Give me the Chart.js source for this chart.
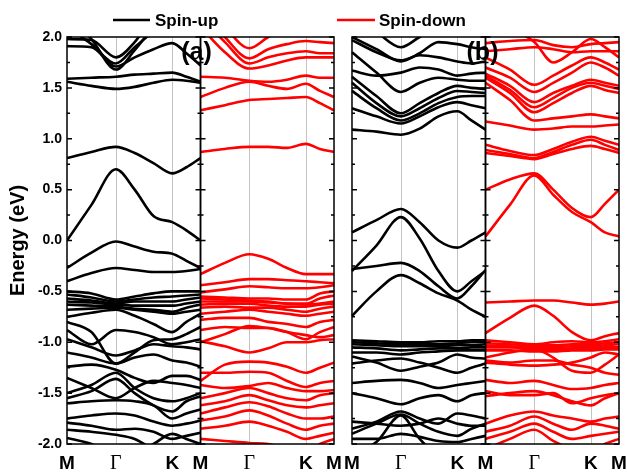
<!DOCTYPE html>
<html>
<head>
<meta charset="utf-8">
<script src="https://cdn.jsdelivr.net/npm/chart.js@4/dist/chart.umd.min.js"></script>
<style>
  html, body { margin: 0; padding: 0; background: #fff; }
</style>
</head>
<body>
<canvas id="bands" width="627" height="472"></canvas>
<script>
// path M-Γ-K-M through the hexagonal zone, |MΓ| = 1
const kNodes = [0, 1, 2.1547, 2.7321];
// energies are sampled at these k positions: M, ½MΓ, Γ, ⅓ΓK, ⅔ΓK, K, ½KM, M
const kSample = [0, 0.5, 1, 1.3849, 1.7698, 2.1547, 2.4434, 2.7321];
const xTickLabels = ['M', 'Γ', 'K', 'M', 'Γ', 'K', 'M', 'M', 'Γ', 'K', 'M', 'Γ', 'K', 'M'];
const panelTags = ['(a)', '(b)'];
const seriesNames = ['Spin-up', 'Spin-down'];

// (a) spin-up, eV
const upA = [
  [2.20, 1.98, 1.68, 1.87, 2.10, 2.30, 2.30, 2.30],
  [1.91, 1.90, 1.71, 1.80, 1.88, 1.94, 1.84, 1.72],
  [2.10, 1.93, 1.74, 1.90, 2.05, 2.15, 2.10, 2.05],
  [1.98, 1.97, 1.80, 1.95, 2.20, 2.30, 2.20, 2.10],
  [1.59, 1.60, 1.61, 1.63, 1.64, 1.65, 1.61, 1.56],
  [1.56, 1.52, 1.49, 1.51, 1.55, 1.58, 1.57, 1.55],
  [0.81, 0.87, 0.92, 0.86, 0.76, 0.66, 0.72, 0.81],
  [0.00, 0.35, 0.70, 0.50, 0.24, 0.18, 0.10, 0.00],
  [-0.27, -0.12, -0.01, -0.06, -0.11, -0.13, -0.20, -0.27],
  [-0.40, -0.32, -0.27, -0.29, -0.31, -0.31, -0.30, -0.28],
  [-0.50, -0.52, -0.58, -0.55, -0.52, -0.50, -0.50, -0.50],
  [-0.53, -0.56, -0.60, -0.58, -0.56, -0.55, -0.54, -0.53],
  [-0.57, -0.59, -0.62, -0.60, -0.60, -0.60, -0.58, -0.56],
  [-0.60, -0.61, -0.63, -0.64, -0.64, -0.64, -0.62, -0.60],
  [-0.63, -0.64, -0.65, -0.67, -0.68, -0.70, -0.66, -0.63],
  [-0.68, -0.67, -0.66, -0.68, -0.70, -0.72, -0.70, -0.68],
  [-0.75, -0.71, -0.68, -0.74, -0.82, -0.90, -0.80, -0.72],
  [-0.80, -0.90, -1.21, -1.10, -0.98, -0.97, -0.92, -0.85],
  [-0.88, -1.02, -0.88, -0.90, -0.95, -1.02, -1.00, -0.97],
  [-0.97, -1.05, -1.13, -1.08, -1.02, -1.04, -1.05, -1.07],
  [-1.10, -1.15, -1.21, -1.15, -1.12, -1.18, -1.20, -1.24],
  [-1.24, -1.22, -1.27, -1.35, -1.40, -1.33, -1.33, -1.37],
  [-1.35, -1.45, -1.55, -1.45, -1.38, -1.40, -1.42, -1.45],
  [-1.50, -1.42, -1.30, -1.45, -1.55, -1.58, -1.55, -1.50],
  [-1.55, -1.48, -1.36, -1.50, -1.62, -1.68, -1.58, -1.53],
  [-1.60, -1.58, -1.57, -1.58, -1.62, -1.75, -1.70, -1.66],
  [-1.75, -1.72, -1.70, -1.72, -1.78, -1.82, -1.80, -1.77],
  [-1.79, -1.82, -1.86, -1.85, -1.88, -1.95, -1.92, -1.89],
  [-1.86, -1.88, -1.91, -1.95, -2.05, -2.10, -2.05, -2.00],
  [-1.94, -2.00, -2.10, -2.10, -2.00, -1.90, -1.95, -2.00]
];

// (a) spin-down
const downA = [
  [2.40, 2.10, 1.89, 2.00, 2.10, 2.20, 2.20, 2.20],
  [2.30, 2.00, 1.79, 1.88, 1.93, 1.96, 1.95, 1.94],
  [2.20, 1.95, 1.74, 1.80, 1.84, 1.86, 1.84, 1.84],
  [2.10, 1.85, 1.69, 1.72, 1.77, 1.80, 1.80, 1.80],
  [1.61, 1.60, 1.57, 1.56, 1.58, 1.62, 1.60, 1.60],
  [1.41, 1.50, 1.56, 1.52, 1.49, 1.54, 1.47, 1.41],
  [1.28, 1.33, 1.38, 1.39, 1.40, 1.41, 1.35, 1.28],
  [0.87, 0.90, 0.92, 0.92, 0.91, 0.95, 0.90, 0.87],
  [-0.33, -0.22, -0.135, -0.18, -0.27, -0.33, -0.33, -0.33],
  [-0.44, -0.41, -0.38, -0.38, -0.39, -0.40, -0.41, -0.42],
  [-0.51, -0.48, -0.45, -0.46, -0.47, -0.47, -0.46, -0.44],
  [-0.55, -0.56, -0.57, -0.57, -0.58, -0.58, -0.52, -0.50],
  [-0.57, -0.58, -0.59, -0.60, -0.62, -0.62, -0.57, -0.54],
  [-0.60, -0.60, -0.60, -0.61, -0.62, -0.63, -0.62, -0.60],
  [-0.63, -0.62, -0.62, -0.64, -0.65, -0.65, -0.63, -0.62],
  [-0.66, -0.65, -0.66, -0.66, -0.68, -0.70, -0.67, -0.65],
  [-0.72, -0.70, -0.68, -0.70, -0.72, -0.74, -0.72, -0.70],
  [-0.78, -0.76, -0.76, -0.80, -0.82, -0.85, -0.80, -0.78],
  [-0.88, -0.85, -0.86, -0.86, -0.90, -0.97, -0.90, -0.85],
  [-1.00, -0.92, -0.84, -0.86, -0.90, -0.93, -0.95, -0.93],
  [-0.99, -1.04, -1.10, -1.06, -1.00, -1.00, -0.98, -0.97],
  [-1.38, -1.22, -1.19, -1.20, -1.24, -1.30, -1.25, -1.20],
  [-1.30, -1.30, -1.29, -1.30, -1.38, -1.44, -1.40, -1.38],
  [-1.42, -1.45, -1.43, -1.40, -1.45, -1.48, -1.48, -1.47],
  [-1.55, -1.50, -1.45, -1.50, -1.55, -1.57, -1.52, -1.50],
  [-1.62, -1.58, -1.52, -1.57, -1.62, -1.64, -1.62, -1.60],
  [-1.70, -1.64, -1.59, -1.63, -1.70, -1.75, -1.75, -1.73],
  [-1.77, -1.73, -1.67, -1.72, -1.80, -1.86, -1.82, -1.80],
  [-1.85, -1.82, -1.78, -1.82, -1.88, -1.95, -1.92, -1.89],
  [-1.95, -1.97, -1.99, -2.00, -2.05, -2.10, -2.00, -1.95]
];

// (b) spin-up
const upB = [
  [2.20, 2.05, 1.90, 2.00, 2.10, 2.20, 2.10, 2.00],
  [2.00, 1.88, 1.76, 1.84, 1.95, 1.93, 1.90, 1.88],
  [1.97, 1.85, 1.77, 1.82, 1.80, 1.76, 1.74, 1.76],
  [1.67, 1.62, 1.65, 1.70, 1.68, 1.62, 1.64, 1.65],
  [1.85, 1.65, 1.46, 1.55, 1.60, 1.58, 1.57, 1.57],
  [1.61, 1.42, 1.25, 1.35, 1.45, 1.52, 1.50, 1.49],
  [1.55, 1.35, 1.22, 1.30, 1.40, 1.47, 1.46, 1.45],
  [1.47, 1.30, 1.18, 1.25, 1.35, 1.41, 1.42, 1.42],
  [1.30, 1.22, 1.15, 1.22, 1.31, 1.36, 1.33, 1.30],
  [1.09, 1.07, 1.04, 1.10, 1.22, 1.27, 1.18, 1.09],
  [0.08, 0.20, 0.31, 0.18, 0.00, -0.07, 0.00, 0.08],
  [-0.30, -0.05, 0.23, 0.02, -0.30, -0.50, -0.40, -0.30],
  [-0.28, -0.25, -0.22, -0.30, -0.45, -0.57, -0.45, -0.29],
  [-0.74, -0.50, -0.34, -0.42, -0.52, -0.59, -0.68, -0.75],
  [-0.98, -0.99, -1.00, -1.00, -0.99, -0.99, -0.98, -0.98],
  [-1.00, -1.01, -1.02, -1.02, -1.02, -1.01, -1.00, -1.00],
  [-1.02, -1.03, -1.04, -1.04, -1.04, -1.03, -1.03, -1.02],
  [-1.05, -1.06, -1.08, -1.07, -1.06, -1.06, -1.05, -1.05],
  [-1.10, -1.10, -1.12, -1.10, -1.09, -1.08, -1.08, -1.08],
  [-1.21, -1.18, -1.16, -1.20, -1.25, -1.30, -1.25, -1.21],
  [-1.14, -1.20, -1.28, -1.24, -1.20, -1.12, -1.15, -1.16],
  [-1.40, -1.38, -1.37, -1.40, -1.45, -1.42, -1.40, -1.38],
  [-1.50, -1.55, -1.61, -1.55, -1.52, -1.58, -1.52, -1.50],
  [-1.85, -1.78, -1.68, -1.75, -1.80, -1.70, -1.72, -1.75],
  [-1.90, -1.80, -1.71, -1.80, -1.88, -1.92, -1.85, -1.80],
  [-1.78, -1.80, -1.82, -1.80, -1.75, -1.80, -1.82, -1.82],
  [-2.10, -1.98, -1.72, -1.95, -2.10, -2.10, -2.10, -2.10],
  [-1.95, -1.95, -1.90, -1.93, -1.97, -1.98, -1.95, -1.92]
];

// (b) spin-down
const downB = [
  [1.94, 1.96, 1.97, 1.92, 1.90, 1.93, 1.94, 1.95],
  [1.86, 1.88, 1.90, 1.88, 1.85, 1.86, 1.86, 1.86],
  [2.30, 2.10, 1.95, 1.75, 1.85, 1.98, 1.90, 1.80],
  [1.80, 1.68, 1.53, 1.62, 1.72, 1.80, 1.75, 1.68],
  [1.70, 1.60, 1.46, 1.55, 1.65, 1.75, 1.70, 1.62],
  [1.64, 1.52, 1.36, 1.45, 1.52, 1.58, 1.55, 1.52],
  [1.62, 1.48, 1.31, 1.40, 1.50, 1.55, 1.52, 1.49],
  [1.60, 1.45, 1.26, 1.35, 1.45, 1.52, 1.48, 1.45],
  [1.55, 1.38, 1.18, 1.20, 1.22, 1.24, 1.22, 1.20],
  [1.17, 1.13, 1.09, 1.10, 1.12, 1.12, 1.13, 1.14],
  [0.94, 0.88, 0.84, 0.90, 0.97, 1.02, 0.98, 0.94],
  [0.89, 0.85, 0.81, 0.87, 0.94, 0.99, 0.94, 0.89],
  [0.86, 0.83, 0.80, 0.85, 0.90, 0.93, 0.90, 0.86],
  [0.50, 0.60, 0.66, 0.50, 0.32, 0.23, 0.36, 0.50],
  [0.04, 0.35, 0.64, 0.45, 0.28, 0.18, 0.08, 0.04],
  [-0.61, -0.60, -0.59, -0.59, -0.61, -0.63, -0.62, -0.60],
  [-0.91, -0.76, -0.64, -0.74, -0.90, -0.98, -0.94, -0.91],
  [-0.98, -1.00, -1.02, -1.00, -0.99, -1.00, -0.99, -0.97],
  [-1.01, -1.02, -1.03, -1.03, -1.02, -1.02, -1.01, -1.00],
  [-1.03, -1.04, -1.05, -1.05, -1.04, -1.04, -1.03, -1.02],
  [-1.05, -1.05, -1.06, -1.07, -1.06, -1.06, -1.05, -1.05],
  [-1.08, -1.08, -1.09, -1.09, -1.08, -1.08, -1.07, -1.07],
  [-1.15, -1.10, -1.07, -1.15, -1.28, -1.30, -1.22, -1.12],
  [-1.20, -1.22, -1.23, -1.22, -1.20, -1.15, -1.10, -1.12],
  [-1.18, -1.20, -1.18, -1.18, -1.22, -1.25, -1.30, -1.32],
  [-1.37, -1.40, -1.38, -1.42, -1.46, -1.45, -1.42, -1.40],
  [-1.53, -1.50, -1.48, -1.52, -1.58, -1.62, -1.55, -1.50],
  [-1.48, -1.52, -1.52, -1.50, -1.60, -1.55, -1.52, -1.50],
  [-1.80, -1.72, -1.68, -1.72, -1.75, -1.78, -1.75, -1.73],
  [-1.88, -1.82, -1.73, -1.80, -1.86, -1.80, -1.82, -1.85],
  [-1.95, -1.88, -1.80, -1.88, -1.95, -1.92, -1.90, -1.88],
  [-2.05, -1.95, -1.86, -1.97, -2.05, -2.10, -2.00, -1.95]
];

const pathLen = kNodes[3];
const gap = 0.368;
// x offsets of the four sub-panels: (a) up, (a) down, (b) up, (b) down
const offsets = [0, pathLen, 2 * pathLen + gap, 3 * pathLen + gap];
const xMax = 4 * pathLen + gap;
const tickPos = [];
offsets.forEach((off, p) => kNodes.forEach((k, i) => {
  if (i === 0 && (p === 1 || p === 3)) return; // shared M edge
  tickPos.push(off + k);
}));

const FONT = "'Liberation Sans', Arial, sans-serif";
const colors = ['#000000', '#ff0000'];

const datasets = [];
[upA, downA, upB, downB].forEach((bands, p) => {
  for (const band of bands) {
    datasets.push({
      data: kSample.map((k, i) => ({ x: offsets[p] + k, y: band[i] })),
      borderColor: colors[p % 2],
      borderWidth: 2.6,
      pointRadius: 0,
      cubicInterpolationMode: 'monotone',
      fill: false
    });
  }
});

const frames = {
  id: 'frames',
  beforeDatasetsDraw(chart) {
    const { ctx, chartArea: a, scales: { x } } = chart;
    ctx.save();
    ctx.strokeStyle = '#c4c4c4';
    ctx.lineWidth = 1;
    for (const off of offsets) {
      for (const k of [kNodes[1], kNodes[2]]) {
        const px = Math.round(x.getPixelForValue(off + k)) + 0.5;
        ctx.beginPath();
        ctx.moveTo(px, a.top);
        ctx.lineTo(px, a.bottom);
        ctx.stroke();
      }
    }
    ctx.restore();
  },
  afterDatasetsDraw(chart) {
    const { ctx, chartArea: a, scales: { x, y } } = chart;
    ctx.save();
    ctx.strokeStyle = '#000';
    ctx.lineWidth = 1.5;
    // sub-panel frames with inward ticks on both sides
    for (const off of offsets) {
      const l = x.getPixelForValue(off);
      const r = x.getPixelForValue(off + pathLen);
      ctx.strokeRect(l, a.top, r - l, a.bottom - a.top);
      for (let v = -2; v <= 2.001; v += 0.25) {
        const py = y.getPixelForValue(v);
        const len = Math.abs(v * 2 - Math.round(v * 2)) < 0.01 ? 5 : 3;
        ctx.beginPath();
        ctx.moveTo(l, py); ctx.lineTo(l + len, py);
        ctx.moveTo(r, py); ctx.lineTo(r - len, py);
        ctx.stroke();
      }
    }
    // panel tags
    ctx.fillStyle = '#000';
    ctx.font = 'bold 25px ' + FONT;
    ctx.textAlign = 'center';
    ctx.textBaseline = 'middle';
    ctx.fillText(panelTags[0], x.getPixelForValue(offsets[1]) - 4, a.top + 16);
    ctx.fillText(panelTags[1], x.getPixelForValue(offsets[3]) - 3, a.top + 16);
    // legend
    ctx.font = 'bold 17px ' + FONT;
    ctx.textAlign = 'left';
    ctx.lineWidth = 2.5;
    [[113, 150, 155], [337, 375, 379]].forEach(([x0, x1, tx], i) => {
      ctx.strokeStyle = colors[i];
      ctx.beginPath();
      ctx.moveTo(x0, 20); ctx.lineTo(x1, 20);
      ctx.stroke();
      ctx.fillText(seriesNames[i], tx, 21);
    });
    ctx.restore();
  }
};

new Chart(document.getElementById('bands'), {
  type: 'line',
  data: { datasets },
  options: {
    responsive: false,
    animation: false,
    devicePixelRatio: 1,
    layout: { padding: { top: 37, right: 8, left: 0, bottom: 0 } },
    plugins: { legend: { display: false }, tooltip: { enabled: false } },
    scales: {
      x: {
        type: 'linear',
        min: 0,
        max: xMax,
        afterFit: (s) => { s.height = 28; s.paddingLeft = 0; s.paddingRight = 0; },
        afterBuildTicks: (s) => { s.ticks = tickPos.map((v) => ({ value: v })); },
        grid: { display: false, drawTicks: false },
        border: { display: false },
        ticks: {
          autoSkip: false,
          maxRotation: 0,
          padding: 8,
          color: '#000',
          callback: (v, i) => xTickLabels[i],
          font: (c) => (xTickLabels[c.index] === 'Γ'
            ? { family: "'Liberation Serif', serif", size: 20, weight: 'normal' }
            : { family: FONT, size: 19, weight: 'bold' })
        }
      },
      y: {
        min: -2,
        max: 2,
        afterFit: (s) => { s.width = 67; s.paddingTop = 0; s.paddingBottom = 0; },
        grid: { display: false, drawTicks: false },
        border: { display: false },
        ticks: {
          stepSize: 0.5,
          padding: 5,
          color: '#000',
          font: { family: FONT, size: 14, weight: 'bold' },
          callback: (v) => v.toFixed(1)
        },
        title: {
          display: true,
          text: 'Energy (eV)',
          color: '#000',
          font: { family: FONT, size: 20, weight: 'bold' },
          padding: { top: 6, bottom: 0 }
        }
      }
    }
  },
  plugins: [frames]
});
</script>
</body>
</html>
